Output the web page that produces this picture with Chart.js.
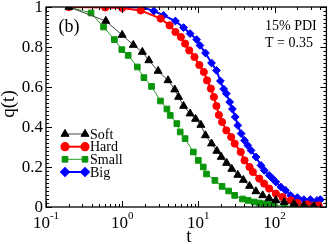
<!DOCTYPE html>
<html>
<head>
<meta charset="utf-8">
<script src="https://cdn.jsdelivr.net/npm/chart.js@4.4.1/dist/chart.umd.min.js"></script>
<style>
  html, body { margin: 0; padding: 0; background: #fff; }
  #wrap { width: 332px; height: 244px; }
</style>
</head>
<body>
<div id="wrap"><canvas id="qtChart"></canvas></div>
<script>
// values
const softT = [0.2, 0.61, 1.0, 1.4, 1.84, 2.24, 2.96, 4.0, 4.9, 5.5, 6.4, 7.8, 9.2, 10.8, 12.4, 14.9, 17.5, 20, 23.5, 27.5, 33, 39, 47, 57, 70, 85, 104, 134, 180, 243, 328];
const softQ = [1.0, 0.93, 0.86, 0.81, 0.775, 0.733, 0.68, 0.633, 0.587, 0.55, 0.505, 0.467, 0.44, 0.41, 0.358, 0.317, 0.28, 0.25, 0.22, 0.19, 0.16, 0.135, 0.105, 0.078, 0.058, 0.043, 0.033, 0.024, 0.016, 0.008, 0.004];

const hardT = [0.2, 0.6, 1.0, 1.75, 3.2, 4.2, 5.0, 5.9, 6.7, 7.6, 8.9, 10.3, 11.8, 13.0, 14.6, 16.0, 17.3, 18.6, 20.5, 23.3, 27, 30, 36, 40.4, 47, 52, 63, 73, 85, 104, 127, 163, 200, 270, 328, 380];
const hardQ = [1.0, 0.998, 0.995, 0.983, 0.942, 0.908, 0.875, 0.85, 0.817, 0.783, 0.75, 0.71, 0.675, 0.633, 0.592, 0.55, 0.505, 0.46, 0.425, 0.383, 0.35, 0.317, 0.275, 0.233, 0.2, 0.175, 0.142, 0.117, 0.092, 0.067, 0.05, 0.033, 0.02, 0.013, 0.005, 0.008];

const smallT = [0.2, 0.39, 0.57, 0.79, 0.99, 1.2, 1.58, 1.93, 2.43, 3.18, 3.87, 4.28, 5.22, 5.78, 6.7, 8.6, 10, 11.6, 12.8, 16.5, 20.5, 25, 30, 38, 45, 54, 63, 73, 85, 99, 134, 180, 243];
const smallQ = [1.0, 0.97, 0.9, 0.837, 0.787, 0.758, 0.7, 0.647, 0.603, 0.53, 0.49, 0.458, 0.417, 0.375, 0.342, 0.275, 0.233, 0.2, 0.165, 0.133, 0.103, 0.08, 0.058, 0.04, 0.033, 0.025, 0.02, 0.016, 0.012, 0.008, 0.004, 0.003, 0.002];

const bigT = [0.2, 1.0, 1.84, 2.6, 3.5, 5.0, 6.4, 7.8, 9.5, 10.5, 12.4, 14.9, 17.3, 19.5, 21.5, 23.3, 25.8, 28, 30.5, 33, 36.5, 40.4, 44.6, 49.2, 57.1, 66.4, 73.4, 85.3, 94.2, 104, 121, 140, 163, 200, 243, 296, 362, 400];
const bigQ = [1.0, 1.0, 0.998, 0.98, 0.958, 0.93, 0.897, 0.867, 0.837, 0.808, 0.77, 0.72, 0.683, 0.63, 0.59, 0.567, 0.525, 0.49, 0.45, 0.408, 0.367, 0.333, 0.308, 0.283, 0.25, 0.208, 0.183, 0.158, 0.142, 0.125, 0.1, 0.083, 0.058, 0.047, 0.037, 0.037, 0.033, 0.037];

const seriesNames = ["Soft", "Hard", "Small", "Big"];
const xMajorTicks = [0.1, 1, 10, 100];
const xTickExponents = ["-1", "0", "1", "2"];
const yMajorTicks = [0, 0.2, 0.4, 0.6, 0.8, 1];
const yTickLabels = ["0", "0.2", "0.4", "0.6", "0.8", "1"];

const SERIF = '"Liberation Serif", "DejaVu Serif", serif';

const pairs = (ts, qs) => ts.map((t, i) => ({ x: t, y: qs[i] }));

const styles = [
  { line: "#444", width: 1, fill: "#000", point: "triangle", r: 4.6 },
  { line: "#ff0000", width: 2, fill: "#ff0000", point: "circle", r: 3.6 },
  { line: "#2a9a2a", width: 1, fill: "#0a960a", point: "rect", r: 4 },
  { line: "#0000ff", width: 2, fill: "#0000ff", point: "rectRot", r: 3.9 },
];

const dataSets = [pairs(softT, softQ), pairs(hardT, hardQ), pairs(smallT, smallQ), pairs(bigT, bigQ)];

const drawMarker = (ctx, s, x, y) => {
  Chart.helpers.drawPoint(ctx, { pointStyle: s.point, radius: s.r, rotation: 0, borderWidth: 1 }, x, y);
};

// frame, inward ticks, tick labels, titles, notes and legend
const decorations = {
  id: "decorations",
  afterDraw(chart) {
    const { ctx, chartArea: a, scales } = chart;
    const xs = scales.x, ys = scales.y;
    ctx.save();
    ctx.strokeStyle = "#000";
    ctx.lineWidth = 1.3;
    ctx.strokeRect(a.left, a.top, a.right - a.left, a.bottom - a.top);

    ctx.lineWidth = 1;
    ctx.beginPath();
    // x ticks, top and bottom
    for (let d = -1; d <= 2; d++) {
      for (let m = 1; m <= 9; m++) {
        const v = m * Math.pow(10, d);
        if (v > xs.max) continue;
        const px = Math.round(xs.getPixelForValue(v)) + 0.5;
        const len = m === 1 ? 6 : 3;
        ctx.moveTo(px, a.bottom); ctx.lineTo(px, a.bottom - len);
        ctx.moveTo(px, a.top); ctx.lineTo(px, a.top + len);
      }
    }
    // y ticks, left and right
    for (let k = 0; k <= 50; k++) {
      const py = Math.round(ys.getPixelForValue(k * 0.02)) + 0.5;
      const len = k % 10 === 0 ? 6 : 3;
      ctx.moveTo(a.left, py); ctx.lineTo(a.left + len, py);
      ctx.moveTo(a.right, py); ctx.lineTo(a.right - len, py);
    }
    ctx.stroke();

    ctx.fillStyle = "#000";
    // y tick labels
    ctx.font = "17px " + SERIF;
    ctx.textAlign = "right";
    ctx.textBaseline = "middle";
    yMajorTicks.forEach((v, i) => {
      ctx.fillText(yTickLabels[i], a.left - 3, ys.getPixelForValue(v) + 1);
    });

    // x tick labels as 10 with superscript
    ctx.textBaseline = "alphabetic";
    ctx.textAlign = "left";
    xMajorTicks.forEach((v, i) => {
      ctx.font = "17px " + SERIF;
      const wb = ctx.measureText("10").width;
      ctx.font = "11px " + SERIF;
      const we = ctx.measureText(xTickExponents[i]).width;
      const x0 = xs.getPixelForValue(v) - (wb + we) / 2;
      ctx.font = "17px " + SERIF;
      ctx.fillText("10", x0, 228);
      ctx.font = "11px " + SERIF;
      ctx.fillText(xTickExponents[i], x0 + wb, 219);
    });

    // axis titles
    ctx.font = "19px " + SERIF;
    ctx.textAlign = "center";
    ctx.fillText("t", 189, 242);
    ctx.save();
    ctx.translate(14, 104);
    ctx.rotate(-Math.PI / 2);
    ctx.fillText("q(t)", 0, 0);
    ctx.restore();

    // notes
    ctx.font = "18px " + SERIF;
    ctx.textBaseline = "middle";
    ctx.fillText("(b)", 69, 27);
    ctx.font = "14px " + SERIF;
    ctx.textAlign = "left";
    ctx.fillText("15% PDI", 265, 26);
    ctx.fillText("T = 0.35", 265, 43);

    // legend
    const rowY = [134, 146.7, 159.3, 172];
    styles.forEach((s, i) => {
      const y = rowY[i];
      ctx.strokeStyle = s.line;
      ctx.lineWidth = s.width;
      ctx.beginPath();
      ctx.moveTo(65, y); ctx.lineTo(85, y);
      ctx.stroke();
      ctx.fillStyle = s.fill;
      ctx.strokeStyle = s.fill;
      drawMarker(ctx, s, 65, y);
      drawMarker(ctx, s, 85, y);
      ctx.fillStyle = "#000";
      ctx.font = "14px " + SERIF;
      ctx.fillText(seriesNames[i], 90, y + 1);
    });
    ctx.restore();
  },
};

new Chart(document.getElementById("qtChart").getContext("2d"), {
  type: "line",
  data: {
    datasets: dataSets.map((d, i) => ({
      label: seriesNames[i],
      data: d,
      borderColor: styles[i].line,
      borderWidth: styles[i].width,
      backgroundColor: styles[i].fill,
      pointBackgroundColor: styles[i].fill,
      pointBorderColor: styles[i].fill,
      pointBorderWidth: 1,
      pointStyle: styles[i].point,
      pointRadius: styles[i].r,
      tension: 0,
      fill: false,
    })),
  },
  options: {
    responsive: true,
    maintainAspectRatio: false,
    animation: false,
    events: [],
    layout: { padding: { left: 0, right: 3, top: 7, bottom: 0 } },
    plugins: {
      legend: { display: false },
      tooltip: { enabled: false },
    },
    scales: {
      x: {
        type: "logarithmic",
        min: 0.1,
        max: 480,
        ticks: { display: false },
        grid: { display: false, drawTicks: false },
        border: { display: false },
        afterFit: (scale) => { scale.height = 37; },
      },
      y: {
        type: "linear",
        min: 0,
        max: 1,
        ticks: { display: false },
        grid: { display: false, drawTicks: false },
        border: { display: false },
        afterFit: (scale) => { scale.width = 46; },
      },
    },
  },
  plugins: [decorations],
});
</script>
</body>
</html>
